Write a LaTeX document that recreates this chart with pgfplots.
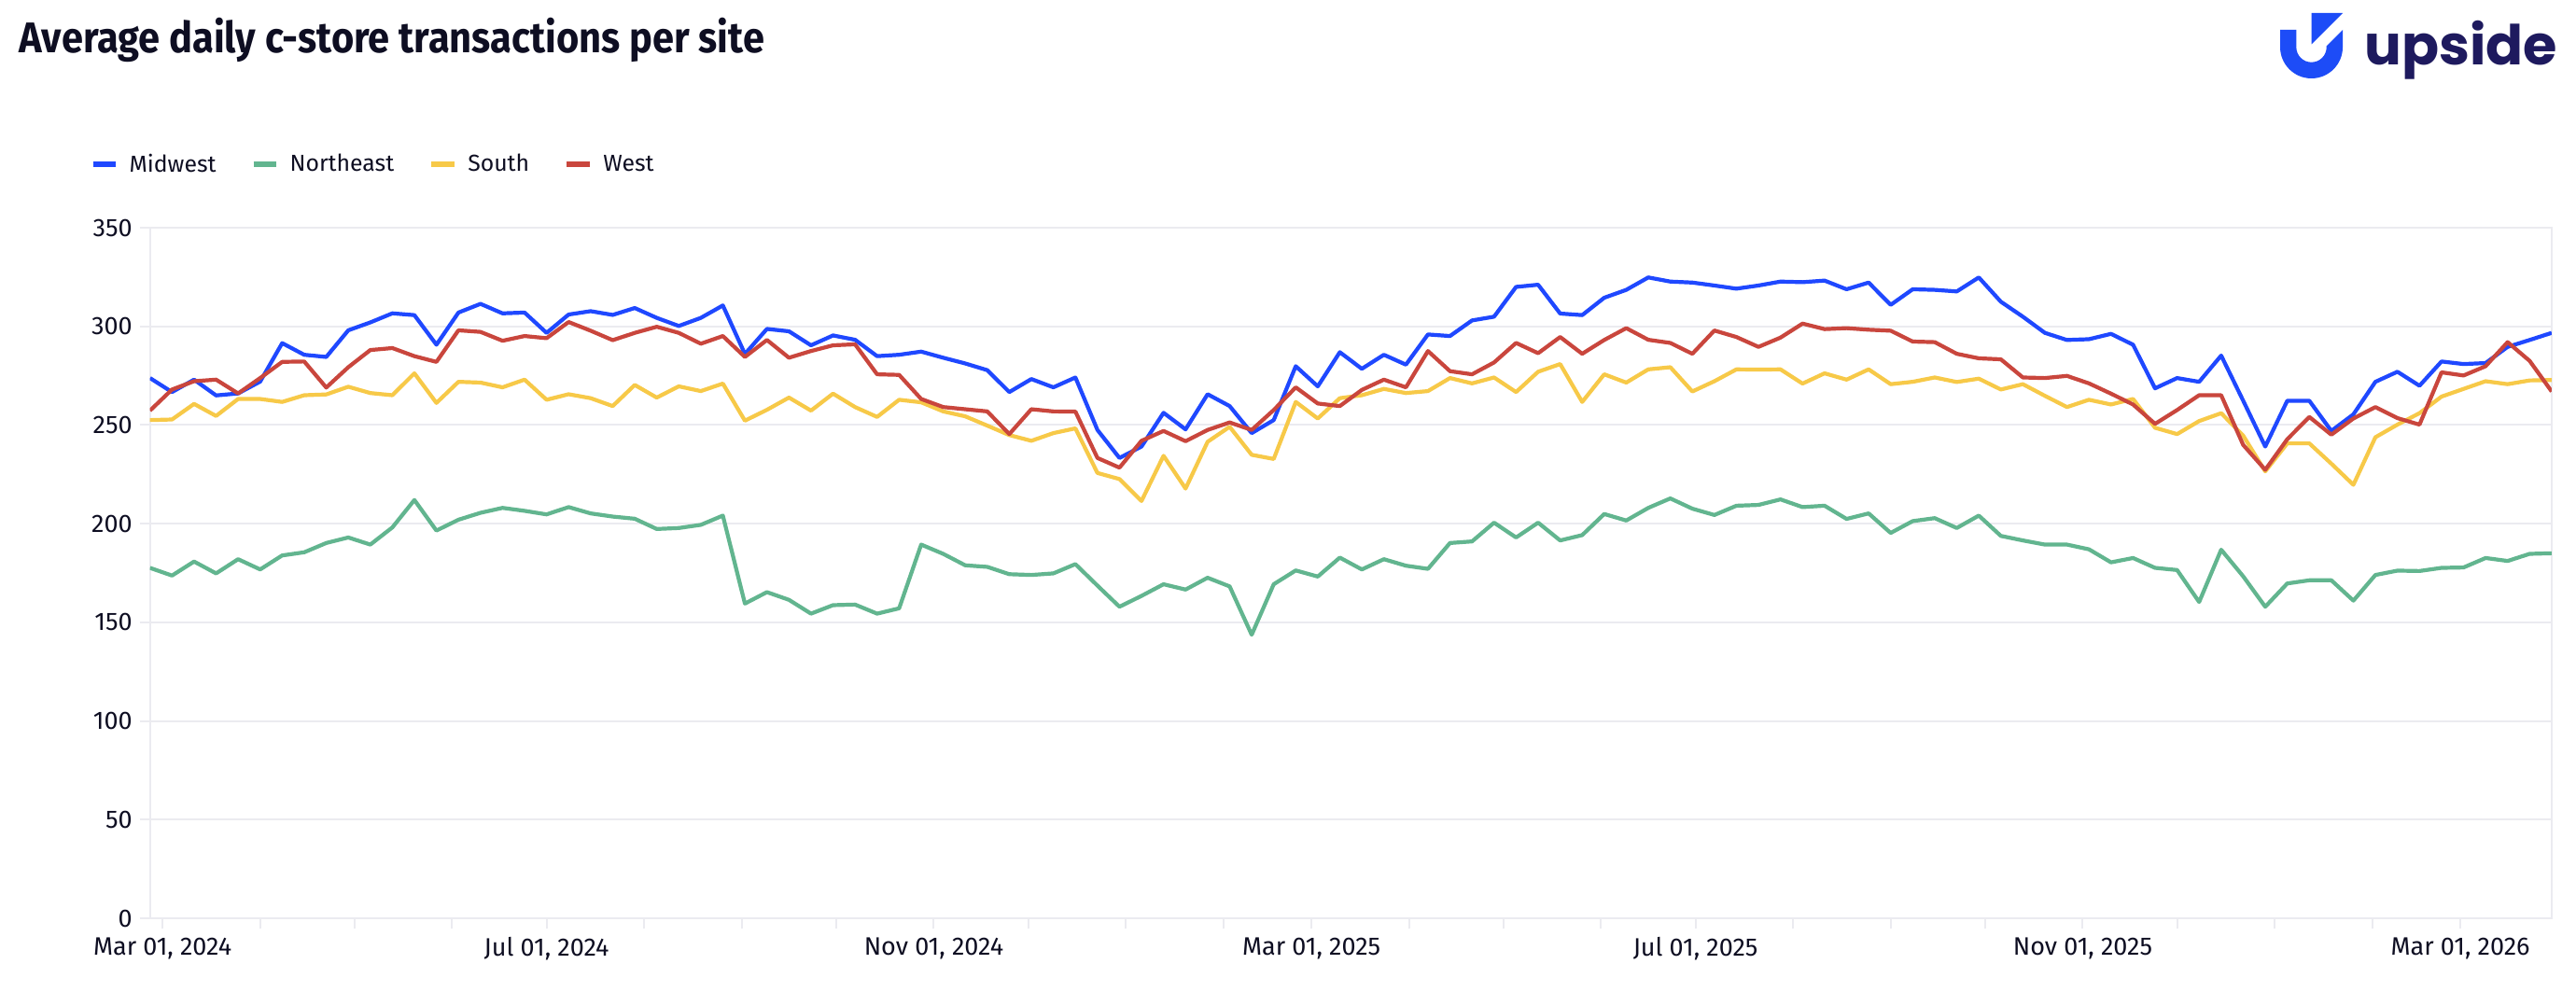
\documentclass[border=0pt]{standalone}
\usepackage{fontspec}
\setmainfont{Fira Sans}
\newfontfamily\titlefont[FakeStretch=0.905]{Fira Sans}
\newfontfamily\logofont{Poppins}
\usepackage{pgfplots}
\usepackage{pgfplotstable}
\pgfplotsset{compat=1.18}

\definecolor{mwblue}{HTML}{1F48FF}
\definecolor{negreen}{HTML}{62B58F}
\definecolor{soyellow}{HTML}{F7C948}
\definecolor{wered}{HTML}{C9463D}
\definecolor{gridgray}{HTML}{EBEBF0}
\definecolor{txt}{HTML}{0E0E22}
\definecolor{logoblue}{HTML}{1D4CF7}
\definecolor{logonavy}{HTML}{1E1A5E}

% day = days after Mar 01, 2024 (weekly, from Mon Feb 26, 2024)
\pgfplotstableread{
day mw ne so we
-4 273.8 177.6 252.5 257.3
3 266.7 173.7 252.8 268.0
10 273.0 180.8 260.7 272.2
17 265.0 174.8 254.6 273.0
24 266.0 182.0 263.2 266.0
31 272.0 176.8 263.2 273.8
38 291.5 183.9 261.7 282.0
45 285.6 185.5 265.1 282.2
52 284.5 190.2 265.5 269.0
59 298.0 193.0 269.4 279.3
66 302.0 189.4 266.2 288.0
73 306.6 198.1 265.1 289.0
80 305.7 212.0 276.2 284.9
87 290.7 196.5 261.2 282.0
94 307.0 202.0 271.9 298.0
101 311.4 205.5 271.5 297.2
108 306.6 208.0 269.1 292.7
115 307.0 206.5 273.0 295.1
122 296.7 204.7 262.8 294.0
129 306.0 208.4 265.6 302.2
136 307.7 205.2 263.6 297.8
143 305.8 203.6 259.6 293.0
150 309.3 202.5 270.3 296.7
157 304.3 197.3 263.9 299.8
164 300.2 197.8 269.6 296.7
171 304.3 199.4 267.2 291.2
178 310.6 204.1 271.0 295.1
185 286.0 159.5 252.2 284.5
192 298.7 165.3 257.7 293.1
199 297.5 161.4 263.9 284.1
206 290.4 154.4 257.3 287.5
213 295.4 158.7 265.9 290.4
220 293.2 159.0 259.1 290.9
227 284.9 154.4 254.1 275.7
234 285.6 157.1 262.8 275.4
241 287.2 189.4 261.5 263.2
248 284.1 184.7 256.9 259.1
255 281.2 178.9 254.4 258.0
262 277.8 178.1 249.7 256.9
269 266.7 174.4 244.9 245.4
276 273.3 174.0 242.0 258.0
283 269.1 174.8 245.9 256.9
290 274.1 179.5 248.3 256.8
297 247.5 168.6 225.7 233.3
304 233.3 157.9 222.6 228.4
311 239.1 163.4 211.5 242.0
318 256.2 169.3 234.4 247.0
325 247.8 166.6 217.8 241.8
332 265.6 172.6 241.5 247.5
339 259.6 168.2 249.1 251.3
346 245.9 143.7 234.9 247.5
353 252.5 169.3 232.8 257.6
360 279.8 176.3 261.7 269.1
367 269.6 173.2 253.3 260.9
374 286.9 182.8 263.6 259.6
381 278.5 176.8 265.1 267.8
388 285.6 182.0 268.3 273.0
395 280.6 178.7 266.2 269.1
402 295.9 177.1 267.2 287.5
409 295.1 190.2 273.8 277.3
416 303.0 191.0 271.1 275.7
423 304.9 200.5 274.1 281.7
430 320.0 193.0 266.7 291.6
437 321.1 200.5 277.0 286.4
444 306.5 191.5 280.9 294.6
451 305.7 194.2 261.7 286.1
458 314.5 204.9 275.7 293.1
465 318.5 201.6 271.5 299.1
472 324.8 208.0 278.2 293.2
479 322.7 212.8 279.3 291.6
486 322.2 207.6 267.0 286.1
493 320.7 204.4 272.2 297.9
500 319.1 209.1 278.2 294.6
507 320.7 209.5 278.1 289.6
514 322.7 212.3 278.2 294.3
521 322.4 208.4 271.0 301.4
528 323.2 209.1 276.2 298.6
535 318.8 202.4 273.0 299.1
542 322.2 205.2 278.2 298.3
549 310.9 195.3 270.7 297.8
556 318.8 201.3 271.9 292.3
563 318.5 202.8 274.1 292.0
570 317.7 197.8 271.8 286.1
577 324.8 204.1 273.5 283.8
584 312.5 193.8 268.0 283.3
591 304.9 191.5 270.7 274.1
598 296.7 189.4 264.8 273.8
605 293.1 189.4 259.1 274.9
612 293.5 187.0 262.8 271.1
619 296.2 180.4 260.4 265.9
626 290.7 182.6 263.2 260.4
633 268.6 177.6 248.6 250.6
640 273.8 176.5 245.4 257.6
647 271.9 160.3 252.0 265.1
654 285.2 186.8 256.0 265.1
661 262.3 173.3 244.6 239.9
668 239.1 157.9 226.5 227.3
675 262.3 169.7 240.7 242.8
682 262.3 171.3 240.7 254.1
689 247.0 171.3 230.4 245.1
696 255.4 161.0 219.7 253.3
703 271.9 174.0 243.8 259.1
710 277.0 176.2 250.2 253.5
717 269.9 176.0 256.0 250.2
724 282.2 177.6 264.4 276.7
731 280.9 177.8 268.3 275.1
738 281.4 182.6 272.2 279.8
745 289.6 181.1 270.7 292.0
752 293.1 184.7 272.6 282.5
759 296.7 185.0 272.8 267.0
}\cstore

\begin{document}
\begin{tikzpicture}
\path[use as bounding box, fill=white] (0,0) rectangle (1380pt,531pt);

% title
\node[anchor=base west, inner sep=0pt, text=txt]
  at (10pt,502.6pt) {\titlefont\bfseries\fontsize{23}{26}\selectfont Average daily c-store transactions per site};

% logo
\fill[logoblue]
  (1221.5pt,515pt) -- (1221.5pt,505.75pt)
  arc[start angle=180, end angle=360, radius=16.75pt]
  -- (1255pt,515pt) -- (1246.35pt,506.35pt) -- (1246.35pt,505.75pt)
  arc[start angle=0, end angle=-180, radius=8.1pt]
  -- (1230.15pt,515pt) -- cycle;
\fill[logoblue] (1238.25pt,524pt) -- (1255pt,524pt) -- (1238.25pt,507.25pt) -- cycle;
\node[anchor=base west, inner sep=0pt, text=logonavy]
  at (1266.5pt,496pt) {\logofont\bfseries\fontsize{29.5}{32}\selectfont upside};

\begin{axis}[
  at={(80.35pt,39pt)}, anchor=south west,
  scale only axis,
  width=1286.65pt, height=370pt,
  xmin=-4, xmax=759,
  ymin=0, ymax=350,
  ytick={0,50,...,350},
  xtick={0,31,61,92,122,153,184,214,245,275,306,337,365,396,426,457,487,518,549,579,610,640,671,702,730},
  xticklabels={{Mar 01, 2024},,,,{Jul 01, 2024},,,,{Nov 01, 2024},,,,{Mar 01, 2025},,,,{Jul 01, 2025},,,,{Nov 01, 2025},,,,{Mar 01, 2026}},
  xtick pos=bottom, ytick pos=left,
  tick align=outside,
  major tick length=5.5pt,
  tick style={draw=gridgray, line width=1pt},
  ymajorgrids,
  grid style={draw=gridgray, line width=1pt},
  axis line style={draw=gridgray, line width=1pt},
  /pgf/number format/assume math mode=true,
  ticklabel style={font=\fontsize{13.5}{15}\selectfont, text=txt},
  yticklabel style={inner sep=0pt, xshift=-3.8pt},
  xticklabel style={inner sep=0pt, yshift=-4.5pt},
  legend columns=4,
  legend style={at={(-0.0251,1.0919)}, anchor=west, draw=none, fill=none,
    inner sep=0pt, font=\fontsize{12.4}{14}\selectfont, text=txt,
    nodes={inner sep=0pt},
    /tikz/every odd column/.append style={column sep=5.8pt},
    /tikz/every even column/.append style={column sep=18.5pt}},
  legend image code/.code={\draw[line width=3pt] (0pt,0pt) -- (12.25pt,0pt);},
  every axis plot/.append style={line width=2.1pt, line join=round, no markers},
]
\addplot[mwblue] table[x=day, y=mw] {\cstore};
\addplot[negreen] table[x=day, y=ne] {\cstore};
\addplot[soyellow] table[x=day, y=so] {\cstore};
\addplot[wered] table[x=day, y=we] {\cstore};
\legend{Midwest, Northeast, South, West}
\end{axis}
\end{tikzpicture}
\end{document}
